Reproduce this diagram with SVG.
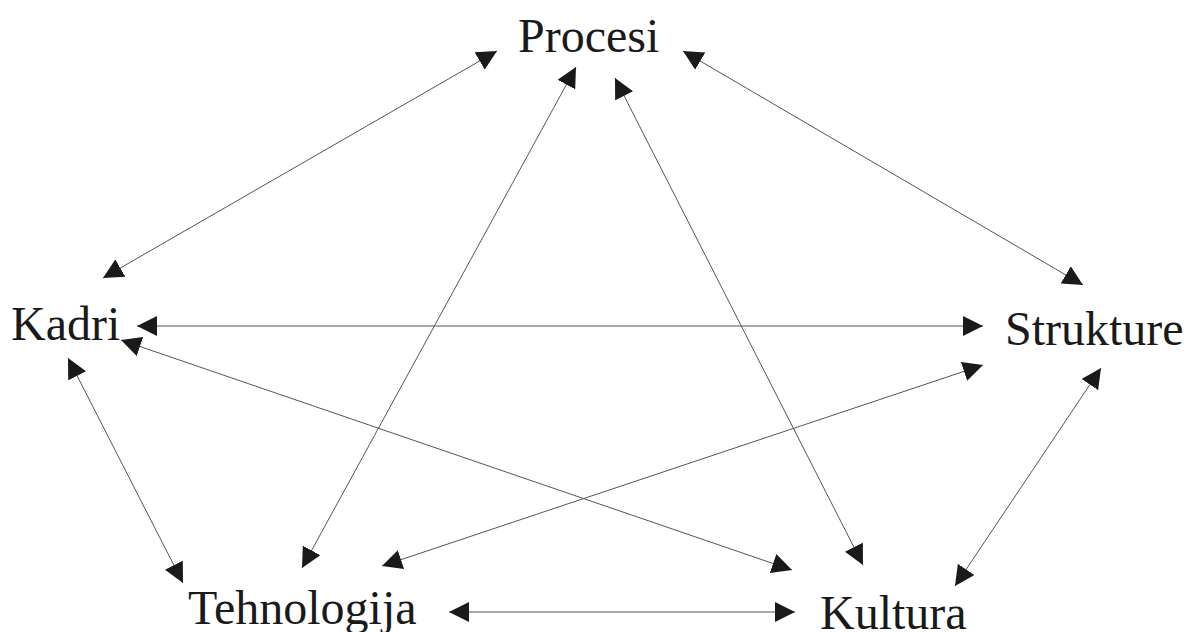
<svg xmlns="http://www.w3.org/2000/svg" width="1187" height="632" viewBox="0 0 1187 632">
<style>
.lbl{font-family:"Liberation Serif","Times New Roman",serif;font-size:48px;fill:#1a1a1a}
.e{stroke:#555;stroke-width:1;fill:none;marker-start:url(#ah);marker-end:url(#ah)}
</style>
<defs>
<marker id="ah" markerUnits="userSpaceOnUse" markerWidth="20" markerHeight="20" refX="20" refY="10" orient="auto-start-reverse">
<path d="M0,0 L20,10 L0,20 z" fill="#1a1a1a"/>
</marker>
</defs>
<rect width="1187" height="632" fill="#fff"/>
<g id="connectors">
<line class="e" x1="103" y1="278" x2="497" y2="51"/>
<line class="e" x1="576" y1="67" x2="302" y2="568"/>
<line class="e" x1="615" y1="78" x2="863" y2="565"/>
<line class="e" x1="683" y1="51" x2="1083" y2="285"/>
<line class="e" x1="137" y1="326" x2="983" y2="326"/>
<line class="e" x1="121" y1="340" x2="792" y2="570"/>
<line class="e" x1="68" y1="358" x2="183" y2="583"/>
<line class="e" x1="983" y1="365" x2="382" y2="566"/>
<line class="e" x1="1101" y1="368" x2="955" y2="586"/>
<line class="e" x1="449" y1="612" x2="795" y2="612"/>
</g>
<g id="procesi"><text class="lbl" x="518" y="52">Procesi</text></g>
<g id="kadri"><text class="lbl" x="11" y="340">Kadri</text></g>
<g id="strukture"><text class="lbl" x="1005" y="345">Strukture</text></g>
<g id="tehnologija"><text class="lbl" x="188" y="624">Tehnologija</text></g>
<g id="kultura"><text class="lbl" x="820" y="629">Kultura</text></g>
</svg>
